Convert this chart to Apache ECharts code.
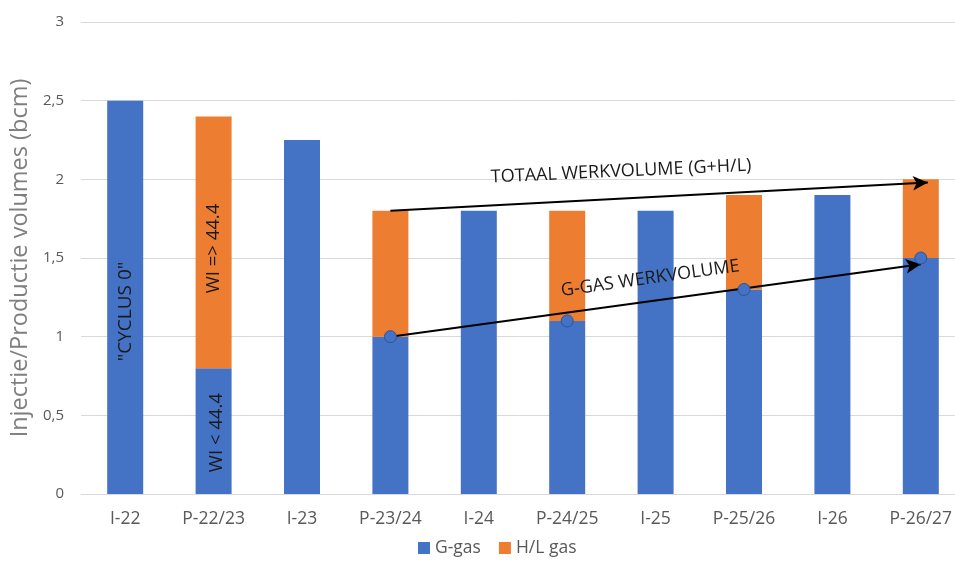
<!DOCTYPE html>
<html>
<head>
<meta charset="utf-8">
<script src="https://cdn.jsdelivr.net/npm/echarts@6/dist/echarts.min.js"></script>
<style>html,body{margin:0;padding:0;background:#fff}#c{width:955px;height:562px}</style>
</head>
<body>
<div id="c"></div>
<script>
const categories = ['I-22','P-22/23','I-23','P-23/24','I-24','P-24/25','I-25','P-25/26','I-26','P-26/27'];
const gGas  = [2.5, 0.8, 2.25, 1.0, 1.8, 1.1, 1.8, 1.3, 1.9, 1.5];
const hlGas = [null, 1.6, null, 0.8, null, 0.7, null, 0.6, null, 0.5];
const seriesNames = ['G-gas', 'H/L gas'];
const yTitle = 'Injectie/Productie volumes (bcm)';
const yMin = 0, yMax = 3, yInterval = 0.5;
// categories whose G-gas top is marked with a circle
const markerCats = ['P-23/24', 'P-24/25', 'P-25/26', 'P-26/27'];
// annotation arrows [from, to] in data coordinates (category position, value)
const totalArrow = [[3, 1.8], [9.08, 1.98]];
const gArrow = [[3, 1.0], [9.0, 1.46]];
// annotation texts: [text, category position, value, rotation deg, font size]
const notes = [
  ['TOTAAL WERKVOLUME (G+H/L)', 5.61, 2.05, 2.6, 18],
  ['G-GAS WERKVOLUME', 5.94, 1.37, 8, 18],
  ['"CYCLUS 0"', 0.0, 1.16, 90, 19],
  ['WI => 44.4', 1.0, 1.56, 90, 18.5],
  ['WI < 44.4', 1.03, 0.39, 90, 18.5]
];

const markers = markerCats.map(c => { const i = categories.indexOf(c); return [i, gGas[i]]; });

const chart = echarts.init(document.getElementById('c'), null, {renderer: 'canvas'});
const font = "'Open Sans', 'Noto Sans', sans-serif";
chart.setOption({
  animation: false,
  textStyle: {fontFamily: font},
  grid: {left: 81, right: -10, top: 22, bottom: 68, containLabel: false, outerBoundsMode: 'none'},
  legend: {
    data: seriesNames, bottom: 0, left: 413, itemWidth: 12, itemHeight: 12, itemGap: 18,
    icon: 'rect', textStyle: {color: '#595959', fontSize: 17.5, fontFamily: font}
  },
  xAxis: [
    {
      type: 'category', data: categories,
      axisLine: {lineStyle: {color: '#d9d9d9'}}, axisTick: {show: false},
      axisLabel: {color: '#595959', fontSize: 17.5, margin: 16}
    },
    {type: 'value', min: -0.5, max: categories.length - 0.5, show: false}
  ],
  yAxis: {
    type: 'value', min: yMin, max: yMax, interval: yInterval,
    name: yTitle, nameLocation: 'middle', nameGap: 38,
    nameTextStyle: {color: '#7f7f7f', fontSize: 23.5, fontFamily: font},
    axisLine: {show: false}, axisTick: {show: false},
    axisLabel: {color: '#595959', fontSize: 15, margin: 17, formatter: v => String(v).replace('.', ',')},
    splitLine: {lineStyle: {color: '#d9d9d9', width: 1}}
  },
  series: [
    {name: seriesNames[0], type: 'bar', stack: 'v', barWidth: 36, data: gGas, itemStyle: {color: '#4472C4'}},
    {name: seriesNames[1], type: 'bar', stack: 'v', barWidth: 36, data: hlGas, itemStyle: {color: '#ED7D31'}},
    {
      name: 'annotations', type: 'scatter', xAxisIndex: 1, data: markers, symbolSize: 12, z: 5,
      itemStyle: {color: '#4472C4', borderColor: '#2F5597', borderWidth: 1, opacity: 1},
      markLine: {
        silent: true, symbol: ['none', 'arrow'], symbolSize: [11, 15], z: 4,
        label: {show: false},
        lineStyle: {color: '#000', width: 2, type: 'solid'},
        data: [
          [{coord: totalArrow[0]}, {coord: totalArrow[1]}],
          [{coord: gArrow[0]}, {coord: gArrow[1]}]
        ]
      }
    }
  ]
});

const graphics = notes.map(n => {
  const p = chart.convertToPixel({xAxisIndex: 1, yAxisIndex: 0}, [n[1], n[2]]);
  return {
    type: 'text', x: p[0], y: p[1], rotation: n[3] * Math.PI / 180, z: 10,
    style: {text: n[0], fill: '#1a1a1a', font: n[4] + "px 'Open Sans', sans-serif", align: 'center', verticalAlign: 'middle'}
  };
});
chart.setOption({graphic: graphics});
</script>
</body>
</html>
